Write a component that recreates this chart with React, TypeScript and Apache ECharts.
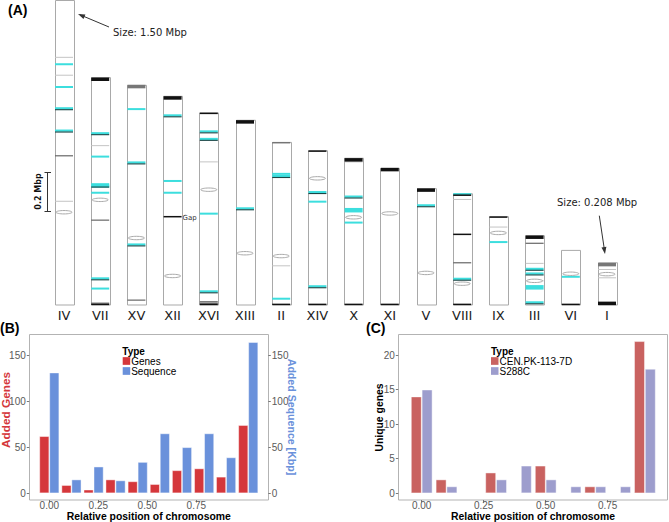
import { useEffect, useRef } from "react";
import * as echarts from "echarts";

// ---------- Panel A data ----------
const chromosomes = ["IV", "VII", "XV", "XII", "XVI", "XIII", "II", "XIV", "X", "XI", "V", "VIII", "IX", "III", "VI", "I"];
const chromosomeLengths = [1.5, 1.12, 1.082, 1.028, 0.946, 0.91, 0.801, 0.76, 0.723, 0.673, 0.573, 0.548, 0.435, 0.341, 0.269, 0.208];

// bands: [chromosome index, distance from the chromosome's top (Mbp)]
const lightGrayBands = [
  [0, 0.28], [0, 0.368], [0, 0.989], [1, 0.335], [4, 0.241], [6, 0.608], [8, 0.018],
  [11, 0.028], [12, 0.051], [13, 0.136], [13, 0.222], [15, 0.033], [15, 0.074],
];
const darkGrayBands = [
  [0, 0.765], [1, 0.702], [1, 1.111], [2, 1.058], [4, 0.93], [4, 0.937], [6, 0.002],
  [11, 0.34], [13, 0.037],
];
const blackBands = [
  [1, 1.117], [3, 0.593], [4, 0.002], [4, 0.943], [6, 0.798], [7, 0.002], [7, 0.757],
  [8, 0.72], [9, 0.67], [11, 0.007], [11, 0.2], [11, 0.545], [12, 0.002], [14, 0.266],
];
const thickBlackBands = [
  [1, 0.008], [3, 0.008], [5, 0.008], [8, 0.008], [9, 0.006], [10, 0.007], [13, 0.007], [15, 0.2],
];
const thickGrayBands = [[2, 0.006], [15, 0.009]];
const cyanBands = [
  [0, 0.314], [0, 0.426], [1, 0.389], [1, 0.567], [1, 1.039], [2, 0.117], [3, 0.417], [3, 0.475],
  [4, 0.496], [6, 0.155], [6, 0.77], [7, 0.251], [8, 0.317], [11, 0.002], [12, 0.125], [14, 0.13],
];
const thickCyanBands = [[1, 0.531], [8, 0.256], [13, 0.254]];
const tealBands = [
  [0, 0.534], [0, 0.644], [1, 0.277], [1, 0.535], [1, 0.992], [2, 0.383], [2, 0.787], [3, 0.097],
  [4, 0.094], [4, 0.131], [4, 0.882], [5, 0.437], [6, 0.169], [7, 0.207], [7, 0.671], [8, 0.192],
  [10, 0.085], [11, 0.422], [13, 0.166], [13, 0.189], [13, 0.331],
];
const centromeres = [
  [0, 1.043], [1, 0.602], [2, 0.752], [3, 0.885], [4, 0.378], [5, 0.655], [6, 0.56], [7, 0.136],
  [8, 0.291], [9, 0.222], [10, 0.415], [11, 0.443], [12, 0.08], [13, 0.222], [14, 0.115], [15, 0.056],
];

// ---------- Panel B data ----------
const binsB = [0, 0.113, 0.226, 0.338, 0.451, 0.564, 0.677, 0.79, 0.902, 1.015];
const addedGenes = [62, 9, 4, 15, 13, 10, 25, 27, 18, 74];
const addedSequence = [131, 15, 29, 14, 34, 65, 50, 65, 39, 164];

// ---------- Panel C data ----------
const binsC = [0, 0.1, 0.2, 0.3, 0.4, 0.5, 0.6, 0.7, 0.8, 0.9];
const cenpkGenes: (number | string)[] = [14, 2, "-", 3, "-", 4, "-", 1, "-", 22];
const s288cGenes: (number | string)[] = [15, 1, "-", 2, 4, 2, 1, 1, 1, 18];

const RED_B = "#d5373b";
const BLUE_B = "#6a91db";
const RED_C = "#c96260";
const PURPLE_C = "#9d9dcd";
const CYAN = "#3cdede";
const SANS = "Liberation Sans";
const DEJAVU = "DejaVu Sans";

const HALF = 9;

type Layer = { color: string; width: number; dy: number };

function bandRenderer(layers: Layer[]) {
  return (_params: any, api: any) => {
    const p = api.coord([api.value(0), api.value(1)]);
    return {
      type: "group",
      children: layers.map((l) => ({
        type: "line",
        shape: { x1: p[0] - HALF, y1: p[1] + l.dy, x2: p[0] + HALF, y2: p[1] + l.dy },
        style: { stroke: l.color, lineWidth: l.width },
      })),
    };
  };
}

function toY(list: number[][]) {
  return list.map(([i, p]) => [i, chromosomeLengths[i] - p]);
}

function bandSeries(name: string, list: number[][], layers: Layer[]) {
  return {
    name,
    type: "custom",
    xAxisIndex: 0,
    yAxisIndex: 0,
    data: toY(list),
    renderItem: bandRenderer(layers),
    silent: true,
  };
}

const tickLabelStyle = { fontSize: 10, lineHeight: 9, color: "#5a5a5a", fontFamily: SANS };
const TICK = { show: true, length: 2.5, lineStyle: { color: "#7a7a7a" } };

export default function App() {
  const ref = useRef<HTMLDivElement>(null);

  useEffect(() => {
    document.body.style.margin = "0";
    if (!ref.current) return;
    const chart = echarts.init(ref.current, undefined, { renderer: "svg" });

    const valueX = (gridIndex: number, max: number) => ({
      gridIndex,
      type: "value",
      min: 0,
      max,
      interval: 0.25,
      offset: 6.7,
      axisLine: { show: false, onZero: false },
      splitLine: { show: false },
      axisTick: TICK,
      axisLabel: { formatter: (v: number) => v.toFixed(2), margin: 1, ...tickLabelStyle },
    });

    const valueY = (gridIndex: number, max: number, interval: number, position: string, offset: number) => ({
      gridIndex,
      type: "value",
      position,
      offset,
      min: 0,
      max,
      interval,
      axisLine: { show: false, onZero: false },
      splitLine: { show: false },
      axisTick: TICK,
      axisLabel: { margin: 3.5, ...tickLabelStyle },
    });

    const barBorder = { borderColor: "rgba(255,255,255,0.55)", borderWidth: 0.8 };

    const option: any = {
      animation: false,
      backgroundColor: "#fff",
      grid: [
        { left: 45.9, top: 0.5, width: 579.2, height: 304.5, outerBoundsMode: "none" },
        // panel B: x 0..0.75 spans 49.3..196.3 ; y 0..150 spans 493.3..355
        { left: 49.3, top: 355, width: 147, height: 138.3, outerBoundsMode: "none" },
        // panel C: x 0..0.75 spans 421.7..607.7 ; y 0..20 spans 493.3..355
        { left: 421.7, top: 355, width: 186, height: 138.3, outerBoundsMode: "none" },
      ],
      xAxis: [
        {
          gridIndex: 0,
          type: "category",
          data: chromosomes,
          axisLine: { show: false },
          axisTick: { show: false },
          axisLabel: { interval: 0, margin: 4, fontSize: 13, color: "#222", fontFamily: DEJAVU },
        },
        valueX(1, 0.75),
        valueX(2, 0.75),
      ],
      yAxis: [
        { gridIndex: 0, type: "value", min: 0, max: 1.5, show: false },
        valueY(1, 150, 50, "left", 20),
        valueY(1, 150, 50, "right", 72),
        valueY(2, 20, 5, "left", 23.4),
      ],
      legend: [
        {
          data: ["Genes", "Sequence"],
          orient: "vertical",
          left: 122.7,
          top: 356,
          itemWidth: 7.5,
          itemHeight: 7.7,
          itemGap: 0,
          icon: "rect",
          padding: 0,
          itemStyle: { borderWidth: 0 },
          textStyle: { fontSize: 10, lineHeight: 7.7, color: "#000", fontFamily: SANS, padding: [0, 0, 0, -4] },
        },
        {
          data: ["CEN.PK-113-7D", "S288C"],
          orient: "vertical",
          left: 491,
          top: 356,
          itemWidth: 7.5,
          itemHeight: 7.7,
          itemGap: 0,
          icon: "rect",
          padding: 0,
          itemStyle: { borderWidth: 0 },
          textStyle: { fontSize: 10, lineHeight: 7.7, color: "#000", fontFamily: SANS, padding: [0, 0, 0, -4] },
        },
      ],
      series: [
        {
          name: "Chromosomes",
          type: "custom",
          xAxisIndex: 0,
          yAxisIndex: 0,
          silent: true,
          data: chromosomeLengths.map((l, i) => [i, l]),
          renderItem: (_p: any, api: any) => {
            const top = api.coord([api.value(0), api.value(1)]);
            const bot = api.coord([api.value(0), 0]);
            return {
              type: "rect",
              shape: { x: Math.round(top[0] - 9.5) + 0.5, y: top[1], width: 19, height: bot[1] - top[1] },
              style: { fill: "#fff", stroke: "#a9a9a9", lineWidth: 1 },
            };
          },
        },
        bandSeries("Light gray bands", lightGrayBands, [{ color: "#c4c4c4", width: 1, dy: 0 }]),
        bandSeries("Dark gray bands", darkGrayBands, [{ color: "#666", width: 1.2, dy: 0 }]),
        bandSeries("Thick gray bands", thickGrayBands, [{ color: "#777", width: 3.5, dy: 0 }]),
        bandSeries("Cyan bands", cyanBands, [{ color: CYAN, width: 2, dy: 0 }]),
        bandSeries("Thick cyan bands", thickCyanBands, [{ color: CYAN, width: 4.5, dy: 0 }]),
        bandSeries("Teal bands", tealBands, [
          { color: CYAN, width: 2.2, dy: -0.6 },
          { color: "#1a4646", width: 1.1, dy: 0.8 },
        ]),
        bandSeries("Black bands", blackBands, [{ color: "#111", width: 1.5, dy: 0 }]),
        bandSeries("Thick black bands", thickBlackBands, [{ color: "#111", width: 3.5, dy: 0 }]),
        {
          name: "Centromeres",
          type: "custom",
          xAxisIndex: 0,
          yAxisIndex: 0,
          silent: true,
          data: toY(centromeres),
          renderItem: (_p: any, api: any) => {
            const c = api.coord([api.value(0), api.value(1)]);
            return {
              type: "ellipse",
              shape: { cx: c[0], cy: c[1], rx: 8, ry: 1.7 },
              style: { fill: "#fff", stroke: "#aaa", lineWidth: 1 },
            };
          },
        },
        {
          name: "Genes",
          type: "bar",
          xAxisIndex: 1,
          yAxisIndex: 1,
          barWidth: 10,
          barGap: "0%",
          clip: false,
          itemStyle: { color: RED_B, ...barBorder },
          data: binsB.map((x, i) => [x, addedGenes[i]]),
        },
        {
          name: "Sequence",
          type: "bar",
          xAxisIndex: 1,
          yAxisIndex: 2,
          barWidth: 10,
          barGap: "0%",
          clip: false,
          itemStyle: { color: BLUE_B, ...barBorder },
          data: binsB.map((x, i) => [x, addedSequence[i]]),
        },
        {
          name: "CEN.PK-113-7D",
          type: "bar",
          xAxisIndex: 2,
          yAxisIndex: 3,
          barWidth: 10.8,
          barGap: "0%",
          clip: false,
          itemStyle: { color: RED_C, ...barBorder },
          data: binsC.map((x, i) => [x, cenpkGenes[i]]),
        },
        {
          name: "S288C",
          type: "bar",
          xAxisIndex: 2,
          yAxisIndex: 3,
          barWidth: 10.8,
          barGap: "0%",
          clip: false,
          itemStyle: { color: PURPLE_C, ...barBorder },
          data: binsC.map((x, i) => [x, s288cGenes[i]]),
        },
      ],
      graphic: [
        // panel frames
        { type: "rect", shape: { x: 29.5, y: 334.5, width: 239, height: 165.5 }, style: { fill: "none", stroke: "#b3b3b3", lineWidth: 1 } },
        { type: "rect", shape: { x: 398.5, y: 334.5, width: 269, height: 165.5 }, style: { fill: "none", stroke: "#b3b3b3", lineWidth: 1 } },
        // panel letters
        { type: "text", x: 8, y: 10, style: { text: "(A)", font: `bold 14px ${SANS}`, fill: "#000", textVerticalAlign: "middle" } },
        { type: "text", x: 0, y: 328, style: { text: "(B)", font: `bold 14px ${SANS}`, fill: "#000", textVerticalAlign: "middle" } },
        { type: "text", x: 366, y: 328, style: { text: "(C)", font: `bold 14px ${SANS}`, fill: "#000", textVerticalAlign: "middle" } },
        // panel A annotations
        { type: "text", x: 113, y: 32.5, style: { text: "Size: 1.50 Mbp", font: `10px ${DEJAVU}`, fill: "#222", textVerticalAlign: "middle" } },
        { type: "line", shape: { x1: 109, y1: 27, x2: 80, y2: 14.8 }, style: { stroke: "#333", lineWidth: 1 } },
        { type: "polygon", shape: { points: [[78, 14], [85.4, 14.4], [83.5, 19]] }, style: { fill: "#333" } },
        { type: "text", x: 557, y: 202, style: { text: "Size: 0.208 Mbp", font: `10px ${DEJAVU}`, fill: "#222", textVerticalAlign: "middle" } },
        { type: "line", shape: { x1: 599.3, y1: 215.7, x2: 604.6, y2: 251 }, style: { stroke: "#333", lineWidth: 1 } },
        { type: "polygon", shape: { points: [[605, 254], [606.4, 246.7], [601.5, 247.4]] }, style: { fill: "#333" } },
        { type: "text", x: 182.5, y: 217.7, style: { text: "Gap", font: `7px ${DEJAVU}`, fill: "#333", textVerticalAlign: "middle" } },
        // scale bar
        { type: "line", shape: { x1: 47.5, y1: 172.3, x2: 47.5, y2: 211.3 }, style: { stroke: "#333", lineWidth: 1 } },
        { type: "line", shape: { x1: 44.5, y1: 172.5, x2: 51, y2: 172.5 }, style: { stroke: "#333", lineWidth: 1 } },
        { type: "line", shape: { x1: 44.5, y1: 211.5, x2: 51, y2: 211.5 }, style: { stroke: "#333", lineWidth: 1 } },
        {
          type: "text", x: 38.5, y: 191.5, rotation: Math.PI / 2,
          style: { text: "0.2 Mbp", font: `bold 8px ${DEJAVU}`, fill: "#111", textAlign: "center", textVerticalAlign: "middle" },
        },
        // axis titles
        {
          type: "text", x: 148.8, y: 511.8,
          style: { text: "Relative position of chromosome", font: `bold 10.4px ${SANS}`, fill: "#000", textAlign: "center", textVerticalAlign: "top" },
        },
        {
          type: "text", x: 533, y: 511.8,
          style: { text: "Relative position of chromosome", font: `bold 10.4px ${SANS}`, fill: "#000", textAlign: "center", textVerticalAlign: "top" },
        },
        {
          type: "text", x: 5.5, y: 410, rotation: Math.PI / 2,
          style: { text: "Added Genes", font: `bold 11.8px ${SANS}`, fill: RED_B, textAlign: "center", textVerticalAlign: "middle" },
        },
        {
          type: "text", x: 292, y: 417, rotation: -Math.PI / 2,
          style: { text: "Added Sequence [Kbp]", font: `bold 10.6px ${SANS}`, fill: BLUE_B, textAlign: "center", textVerticalAlign: "middle" },
        },
        {
          type: "text", x: 379, y: 417.5, rotation: Math.PI / 2,
          style: { text: "Unique genes", font: `bold 10.4px ${SANS}`, fill: "#000", textAlign: "center", textVerticalAlign: "middle" },
        },
        // legend titles
        { type: "text", x: 122.3, y: 351, style: { text: "Type", font: `bold 10px ${SANS}`, fill: "#000", textVerticalAlign: "middle" } },
        { type: "text", x: 491, y: 351, style: { text: "Type", font: `bold 10px ${SANS}`, fill: "#000", textVerticalAlign: "middle" } },
      ],
    };

    chart.setOption(option);
    return () => chart.dispose();
  }, []);

  return <div ref={ref} style={{ position: "absolute", left: 0, top: 0, width: 669, height: 522 }} />;
}
